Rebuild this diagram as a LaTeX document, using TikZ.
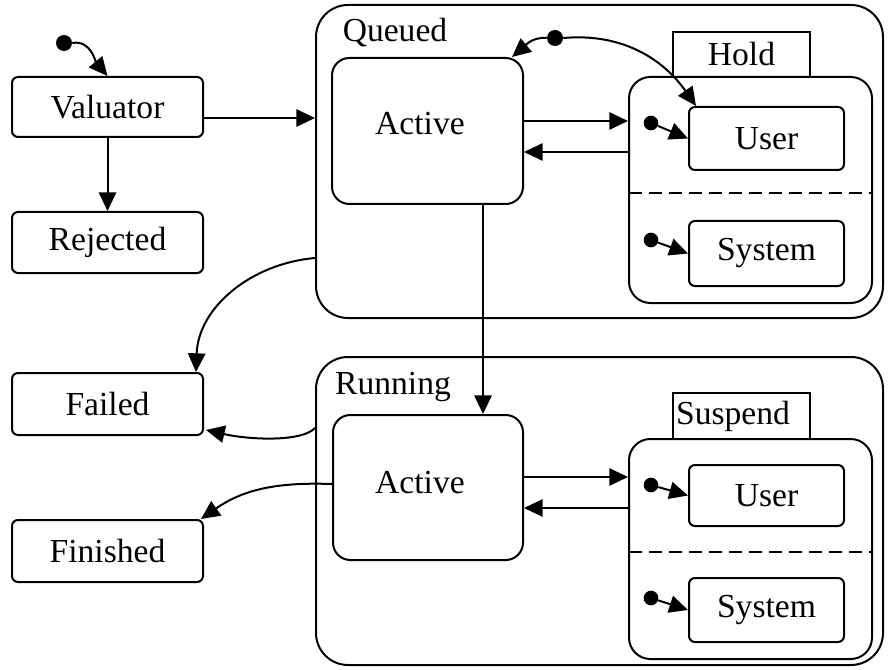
\documentclass[tikz,border=0pt]{standalone}
\usepackage{fontspec}
\setmainfont{Liberation Serif}
\usetikzlibrary{arrows.meta,fit,calc}
\begin{document}
\begin{tikzpicture}[x=0.75pt,y=-0.75pt,
  every node/.style={font=\fontsize{25.2}{29}\selectfont},
  lw/.style={line width=1.5pt},
  wh/.style 2 args={minimum width={#1*0.75pt},minimum height={#2*0.75pt}},
  box/.style={draw,lw,rounded corners=4.5pt,inner sep=0pt},
  bigbox/.style={draw,lw,rounded corners=24pt,inner sep=0pt},
  regbox/.style={draw,lw,rounded corners=16pt,inner sep=0pt},
  actbox/.style={draw,lw,rounded corners=13pt,inner sep=0pt},
  tabbox/.style={draw,lw,inner sep=0pt},
  dotnode/.style={circle,fill=black,inner sep=0pt,minimum size=12pt},
  sdot/.style={circle,fill=black,inner sep=0pt,minimum size=11pt},
  arr/.style={lw,-{Triangle[length=14pt,width=13pt]}},
  txt/.style={inner sep=0pt}
]
\useasboundingbox (0,0) rectangle (888,670);

% left column
\node[box,wh={191}{60}] (val) at (107.5,107) {Valuator};
\node[box,wh={191}{61}] (rej) at (107.5,242.5) {Rejected};
\node[box,wh={191}{62}] (fail) at (107.5,404) {Failed};
\node[box,wh={191}{62}] (fin) at (107.5,551) {Finished};
\node[dotnode] (i0) at (64,43) {};

% Queued
\node[bigbox,fit={(316,5)(883,318)}] (queued) {};
\node[txt] (qlab) at (395,33) {Queued};
\node[actbox,fit={(332,58)(523,204)}] (qact) {};
\node[txt] (qacttxt) at (420,124) {Active};
\node[tabbox,wh={137}{45}] (holdtab) at (741.5,54.5) {Hold};
\node[regbox,fit={(629,77)(872,303)}] (hold) {};
\node[box,wh={155}{63}] (huser) at (766.5,138.5) {User};
\node[box,wh={155}{65}] (hsys) at (766.5,253.5) {System};
\coordinate (hdl) at (629,193);
\coordinate (hdr) at (872,193);
\draw[lw,dash pattern=on 10pt off 5pt] (hdl) -- (hdr);
\node[sdot] (hu0) at (651,123) {};
\node[sdot] (hs0) at (651,240) {};
\node[dotnode] (h0) at (555,38) {};

% Running
\node[bigbox,fit={(316,357)(883,665)}] (running) {};
\node[txt] (rlab) at (393,387) {Running};
\node[actbox,fit={(333,415)(523,560)}] (ract) {};
\node[txt] (racttxt) at (420,483) {Active};
\node[tabbox,wh={137}{46}] (susptab) at (741.5,416) {};
\node[txt] (susplab) at (733,416) {Suspend};
\node[regbox,fit={(629,439)(872,659)}] (susp) {};
\node[box,wh={155}{61}] (suser) at (766.5,495.5) {User};
\node[box,wh={155}{64}] (ssys) at (766.5,610) {System};
\coordinate (sdl) at (629,552);
\coordinate (sdr) at (872,552);
\draw[lw,dash pattern=on 10pt off 5pt] (sdl) -- (sdr);
\node[sdot] (su0) at (651,485) {};
\node[sdot] (ss0) at (651,598) {};

% connectors
\draw[arr] (i0.east) to[out=10,in=130] (val.north);
\draw[arr] (val.south) -- (rej.north);
\draw[arr] (val.east |- 0,118) -- (queued.west |- 0,118);
\draw[arr] (qact.east |- 0,121) -- (hold.west |- 0,121);
\draw[arr] (hold.west |- 0,152) -- (qact.east |- 0,152);
\draw[arr] (h0.west) to[out=175,in=40] ($(qact.north east)+(-12,0)$);
\draw[arr] (h0.east) to[out=5,in=125] ($(huser.north west)+(8,0)$);
\draw[arr] (hu0) -- (huser.west);
\draw[arr] (hs0) -- (hsys.west);
\coordinate (dx) at (483,0);
\draw[arr] (qact.south -| dx) -- (ract.north -| dx);
\draw[arr] (ract.east |- 0,477) -- (susp.west |- 0,477);
\draw[arr] (susp.west |- 0,508) -- (ract.east |- 0,508);
\draw[arr] (su0) -- (suser.west);
\draw[arr] (ss0) -- (ssys.west);
\draw[arr] (queued.west |- 0,258) to[out=185,in=88] ($(fail.north east)+(-8,0)$);
\draw[arr] (running.west |- 0,428) .. controls (302,442) and (250,440) .. ($(fail.east)+(2,26)$);
\draw[arr] (ract.west |- 0,484) to[out=178,in=35] ($(fin.north east)+(-3,0)$);
\end{tikzpicture}
\end{document}
